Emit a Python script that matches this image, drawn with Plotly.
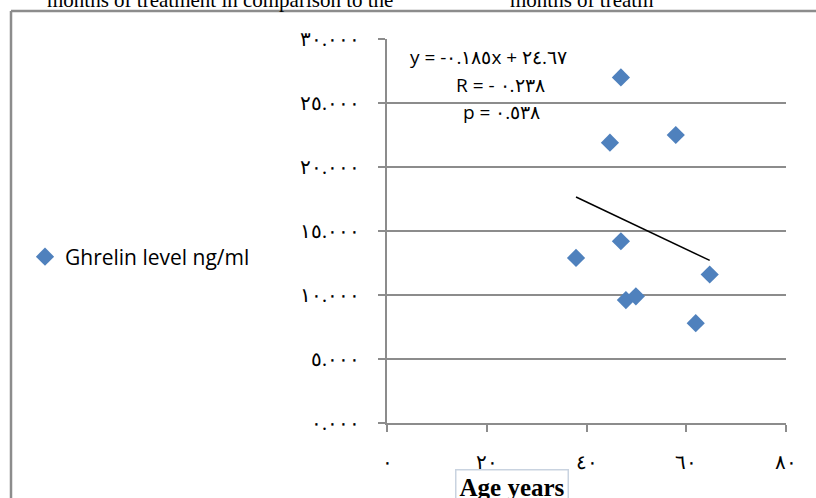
import plotly.graph_objects as go

# Data
age_years = [46.9, 44.7, 57.9, 46.9, 37.9, 64.7, 47.9, 49.9, 61.9]
ghrelin = [27.0, 21.9, 22.5, 14.2, 12.9, 11.6, 9.6, 9.9, 7.8]
trend_slope = -0.185
trend_intercept = 24.67

x_tickvals = [0, 20, 40, 60, 80]
x_ticktext = ["٠", "٢٠", "٤٠", "٦٠", "٨٠"]
y_tickvals = [0, 5, 10, 15, 20, 25, 30]
y_ticktext = ["٠.٠٠٠", "٥.٠٠٠", "١٠.٠٠٠", "١٥.٠٠٠", "٢٠.٠٠٠", "٢٥.٠٠٠", "٣٠.٠٠٠"]

series_name = "Ghrelin level ng/ml"
eq_lines = ["y = -٠.١٨٥x + ٢٤.٦٧", "R = - ٠.٢٣٨", "p = ٠.٥٣٨"]
x_title = "Age years"
top_text_left = "months of treatment in comparison to the"
top_text_right = "months of treatm"

W, H = 816, 498
PL, PR, PT, PB = 387, 786, 39, 423   # plot area in page pixels
L = PL
T = PT
pw, ph = PR - PL, PB - PT
R = W - L - pw
B = H - T - ph

def px_x(p):
    return (p - PL) / pw

def px_y(p):
    return (PB - p) / ph

grid = "#8c8c8c"
fig = go.Figure()

fig.add_trace(go.Scatter(
    x=age_years, y=ghrelin, mode="markers", name=series_name,
    marker=dict(symbol="diamond", size=14, color="#4F81BD"),
    cliponaxis=False,
))

tx = [min(age_years), max(age_years)]
ty = [trend_slope * v + trend_intercept for v in tx]
fig.add_trace(go.Scatter(
    x=tx, y=ty, mode="lines", showlegend=False,
    line=dict(color="black", width=1.5),
))

tickfont = dict(family="Liberation Serif, DejaVu Serif", size=20, color="black")
fig.update_layout(
    width=W, height=H,
    margin=dict(l=L, r=R, t=T, b=B),
    paper_bgcolor="white", plot_bgcolor="white",
    showlegend=True,
    legend=dict(x=px_x(25), y=px_y(257), xanchor="left", yanchor="middle",
                font=dict(family="Open Sans", size=21, color="black"),
                bgcolor="rgba(0,0,0,0)", itemwidth=30, tracegroupgap=0),
    xaxis=dict(range=[0, 80], tickvals=x_tickvals, ticktext=x_ticktext,
               showgrid=False, zeroline=False, showline=True, linecolor=grid, linewidth=2,
               ticks="outside", ticklen=7, tickwidth=2, tickcolor=grid,
               ticklabelstandoff=13, tickfont=tickfont),
    yaxis=dict(range=[0, 30], tickvals=y_tickvals, ticktext=y_ticktext,
               showgrid=True, gridcolor=grid, gridwidth=2, zeroline=False,
               showline=True, linecolor=grid, linewidth=2,
               ticks="outside", ticklen=7, tickwidth=2, tickcolor=grid,
               ticklabelstandoff=14, tickfont=tickfont),
)

annotations = [
    dict(x=px_x(488), y=px_y(57), text=eq_lines[0]),
    dict(x=px_x(500), y=px_y(85), text=eq_lines[1]),
    dict(x=px_x(501), y=px_y(112), text=eq_lines[2]),
]
for a in annotations:
    a.update(xref="paper", yref="paper", showarrow=False, xanchor="center", yanchor="middle",
             font=dict(family="Open Sans", size=19, color="black"))

annotations.append(dict(
    x=px_x(512), y=px_y(487), xref="paper", yref="paper", showarrow=False,
    text="<b>" + x_title + "</b>", xanchor="center", yanchor="middle",
    font=dict(family="Liberation Serif", size=25, color="black"),
    bordercolor="#c9d3e0", borderwidth=1.5, borderpad=3, bgcolor="white",
))
annotations.append(dict(
    x=px_x(45), y=px_y(0), xref="paper", yref="paper", showarrow=False,
    text=top_text_left, xanchor="left", yanchor="middle",
    font=dict(family="Liberation Serif", size=21, color="black"),
))
annotations.append(dict(
    x=px_x(508), y=px_y(0), xref="paper", yref="paper", showarrow=False,
    text=top_text_right, xanchor="left", yanchor="middle",
    font=dict(family="Liberation Serif", size=21, color="black"),
))
fig.update_layout(annotations=annotations)

# Outer chart border (left and top edges visible)
fig.add_shape(type="line", xref="paper", yref="paper",
              x0=px_x(11), x1=px_x(11), y0=px_y(11), y1=px_y(520),
              line=dict(color="#8c8c8c", width=2.5))
fig.add_shape(type="line", xref="paper", yref="paper",
              x0=px_x(11), x1=px_x(830), y0=px_y(11), y1=px_y(11),
              line=dict(color="#8c8c8c", width=2.5))

fig.write_html("out.html", config={"displayModeBar": False},
               post_script="document.body.style.margin='0';")
